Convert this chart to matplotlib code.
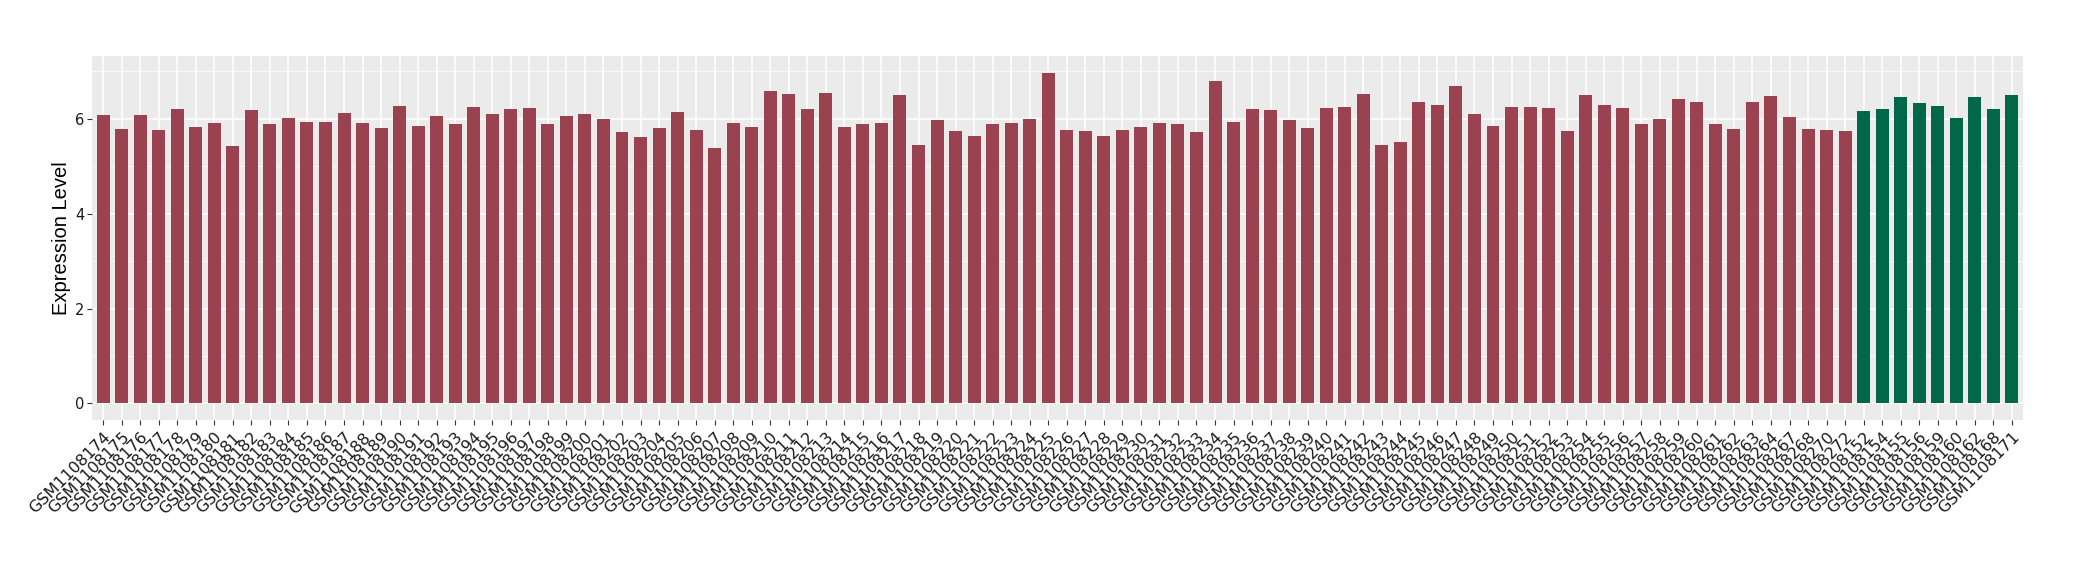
import matplotlib
matplotlib.use("Agg")
import matplotlib.pyplot as plt
from matplotlib.ticker import MultipleLocator

red_ids = list(range(1108174, 1108265)) + [1108267, 1108268, 1108270, 1108272]
green_ids = [1108152, 1108154, 1108155, 1108156, 1108159, 1108160, 1108162, 1108168, 1108171]
samples = ["GSM%d" % i for i in red_ids + green_ids]

red_values = [
    6.08, 5.79, 6.08, 5.75, 6.20, 5.83, 5.91, 5.42, 6.18, 5.89,
    6.01, 5.93, 5.93, 6.11, 5.91, 5.81, 6.26, 5.85, 6.06, 5.89,
    6.24, 6.09, 6.20, 6.22, 5.89, 6.06, 6.09, 5.99, 5.71, 5.61,
    5.81, 6.13, 5.75, 5.38, 5.91, 5.83, 6.58, 6.52, 6.20, 6.54,
    5.83, 5.89, 5.91, 6.50, 5.44, 5.97, 5.73, 5.63, 5.89, 5.91,
    5.99, 6.97, 5.75, 5.73, 5.63, 5.75, 5.83, 5.91, 5.89, 5.71,
    6.79, 5.93, 6.20, 6.18, 5.97, 5.81, 6.22, 6.24, 6.52, 5.44,
    5.50, 6.36, 6.29, 6.69, 6.09, 5.85, 6.24, 6.24, 6.22, 5.73,
    6.50, 6.28, 6.22, 5.89, 5.99, 6.42, 6.36, 5.89, 5.79, 6.34,
    6.48, 6.04, 5.79, 5.75, 5.73,
]
green_values = [6.15, 6.20, 6.46, 6.32, 6.26, 6.01, 6.46, 6.20, 6.50]

values = red_values + green_values
colors = ["#9B4251"] * len(red_values) + ["#006846"] * len(green_values)

fig = plt.figure(figsize=(20.8, 5.8), dpi=100)
ax = fig.add_axes([92 / 2080, 1 - 420 / 580, (2023 - 92) / 2080, (420 - 56) / 580])
ax.set_facecolor("#EBEBEB")

x = list(range(len(samples)))
ax.bar(x, values, width=0.7, color=colors, zorder=3)

ax.set_xlim(-0.6, len(samples) - 0.4)
ymax = max(values)
ax.set_ylim(-0.05 * ymax, ymax * 1.05)
ax.yaxis.set_major_locator(MultipleLocator(2))
ax.yaxis.set_minor_locator(MultipleLocator(1))
ax.grid(which="major", axis="both", color="white", linewidth=1.1, zorder=0)
ax.grid(which="minor", axis="y", color="white", linewidth=0.55, zorder=0)
ax.set_axisbelow(True)
for s in ax.spines.values():
    s.set_visible(False)

ax.set_xticks(x)
ax.set_xticklabels(samples, rotation=45, ha="right", va="top",
                   rotation_mode="anchor", fontsize=11.5, color="#1a1a1a",
                   family="DejaVu Sans")
ax.tick_params(axis="both", which="major", color="#333333", length=3.5, width=0.8)
ax.tick_params(axis="y", which="minor", length=0)
ax.tick_params(axis="y", labelsize=10.5, labelcolor="#1a1a1a", pad=2)
for lab in ax.get_yticklabels():
    lab.set_family("Liberation Sans Narrow")
ax.set_ylabel("Expression Level", fontsize=14.5, family="Liberation Sans", labelpad=3)

fig.savefig("out.png", dpi=100)
